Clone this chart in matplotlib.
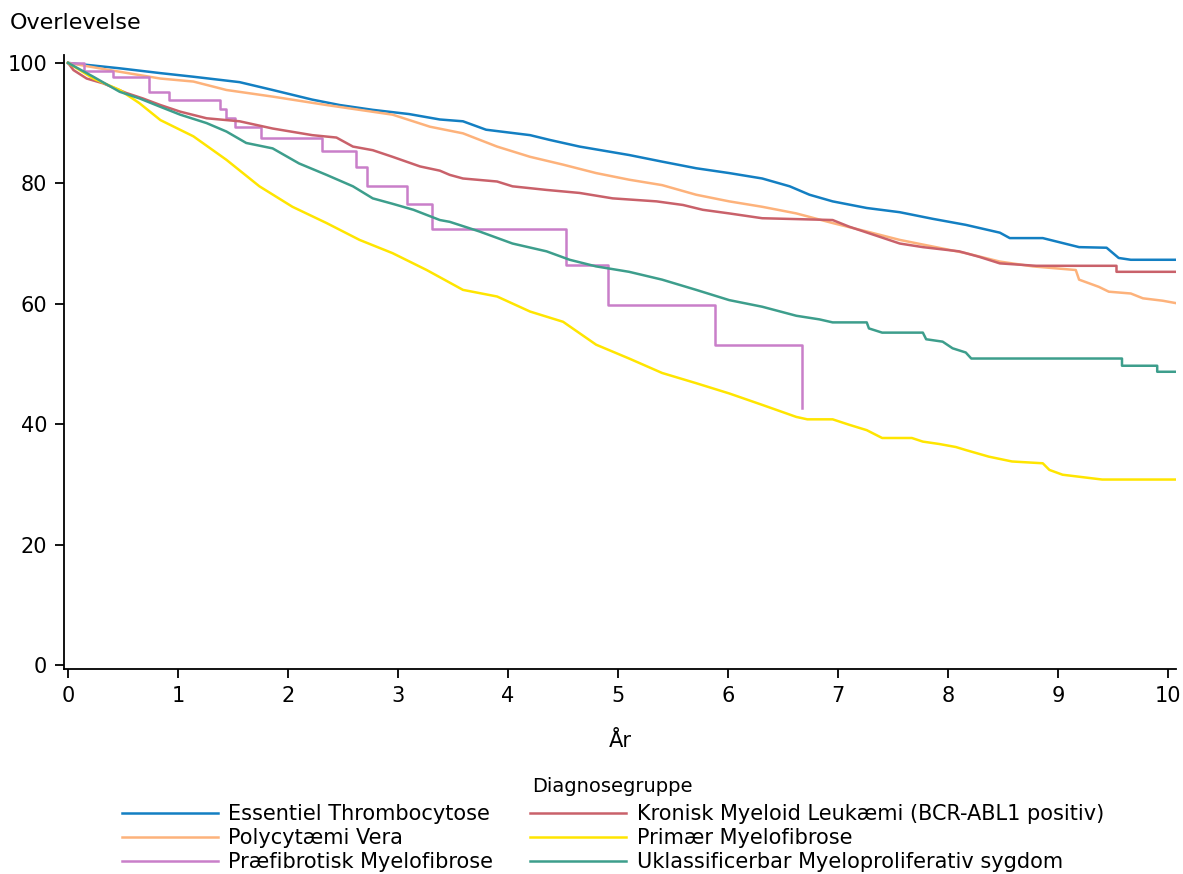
import matplotlib
matplotlib.use("Agg")
import matplotlib.pyplot as plt

plt.rcParams['font.family'] = ['DejaVu Sans']

# ---- data ----
et_t = [0, 0.47, 0.84, 1.14, 1.56, 1.86, 2.22, 2.47, 2.77, 3.1, 3.38, 3.59, 3.8, 4.2, 4.38, 4.65,
        5.1, 5.4, 5.71, 6.01, 6.31, 6.56, 6.74, 6.95, 7.26, 7.56, 7.86, 8.16, 8.47, 8.56, 8.86,
        9.19, 9.44, 9.55, 9.66, 10.07]
et_v = [100, 99.1, 98.3, 97.7, 96.8, 95.5, 93.9, 93.0, 92.2, 91.5, 90.6, 90.3, 88.9, 88.0, 87.2, 86.1,
        84.7, 83.6, 82.5, 81.7, 80.8, 79.5, 78.1, 77.0, 75.9, 75.2, 74.1, 73.1, 71.8, 70.9, 70.9,
        69.4, 69.3, 67.6, 67.3, 67.3]

pv_t = [0, 0.38, 0.84, 1.14, 1.44, 1.86, 2.35, 2.65, 2.95, 3.29, 3.59, 3.9, 4.2, 4.5, 4.8, 5.1,
        5.4, 5.71, 6.01, 6.31, 6.62, 6.95, 7.26, 7.56, 7.86, 8.16, 8.47, 8.77, 9.16, 9.19, 9.37,
        9.46, 9.66, 9.77, 9.95, 10.07]
pv_v = [100, 98.8, 97.4, 96.9, 95.5, 94.4, 93.0, 92.2, 91.4, 89.4, 88.3, 86.1, 84.4, 83.1, 81.7, 80.6,
        79.7, 78.1, 77.0, 76.1, 75.0, 73.4, 72.0, 70.6, 69.5, 68.4, 67.0, 66.2, 65.6, 64.0, 62.8,
        62.0, 61.7, 60.9, 60.5, 60.1]

pre_t = [0, 0.15, 0.41, 0.74, 0.92, 1.38, 1.44, 1.52, 1.75, 2.31, 2.62, 2.72, 3.08, 3.31, 4.53,
         4.91, 5.88, 6.67]
pre_v = [100, 98.7, 97.6, 95.1, 93.9, 92.4, 90.8, 89.3, 87.6, 85.4, 82.7, 79.6, 76.5, 72.4, 66.4,
         59.8, 53.2, 42.7]

cml_t = [0, 0.05, 0.17, 0.32, 0.53, 0.68, 0.84, 1.02, 1.26, 1.56, 1.86, 2.22, 2.44, 2.59, 2.77,
         2.95, 3.2, 3.38, 3.47, 3.59, 3.9, 4.04, 4.35, 4.65, 4.95, 5.35, 5.59, 5.77, 6.01, 6.31,
         6.74, 6.95, 7.1, 7.38, 7.56, 7.77, 8.1, 8.28, 8.47, 8.8, 9.53, 9.53, 10.07]
cml_v = [100, 98.8, 97.4, 96.6, 95.0, 94.1, 93.0, 91.9, 90.8, 90.3, 89.1, 88.0, 87.6, 86.1, 85.5,
         84.4, 82.8, 82.1, 81.4, 80.8, 80.3, 79.5, 78.9, 78.4, 77.5, 77.0, 76.4, 75.6, 75.0, 74.2,
         74.0, 73.9, 72.8, 71.1, 70.0, 69.4, 68.7, 67.8, 66.7, 66.3, 66.3, 65.3, 65.3]

pmf_t = [0, 0.23, 0.47, 0.65, 0.84, 1.14, 1.44, 1.74, 2.04, 2.35, 2.65, 2.95, 3.26, 3.59, 3.9,
         4.2, 4.5, 4.8, 5.1, 5.4, 5.71, 6.01, 6.31, 6.62, 6.72, 6.95, 7.1, 7.26, 7.4, 7.67, 7.77,
         7.92, 8.07, 8.16, 8.37, 8.58, 8.86, 8.92, 9.04, 9.4, 10.07]
pmf_v = [100, 97.4, 95.5, 93.3, 90.5, 87.8, 83.9, 79.5, 76.1, 73.4, 70.6, 68.4, 65.6, 62.3, 61.2,
         58.7, 57.0, 53.2, 50.9, 48.5, 46.8, 45.1, 43.2, 41.2, 40.8, 40.8, 39.9, 39.0, 37.7, 37.7, 37.1,
         36.7, 36.2, 35.7, 34.6, 33.8, 33.5, 32.4, 31.6, 30.8, 30.8]

mpn_t = [0, 0.23, 0.47, 0.65, 0.84, 1.02, 1.26, 1.44, 1.62, 1.86, 2.1, 2.35, 2.59, 2.77, 2.95,
         3.14, 3.38, 3.47, 3.74, 4.04, 4.35, 4.56, 4.8, 5.1, 5.4, 5.71, 6.01, 6.31, 6.62, 6.83,
         6.95, 7.26, 7.28, 7.4, 7.77, 7.8, 7.95, 8.04, 8.16, 8.21, 9.58, 9.58, 9.9, 9.9, 10.07]
mpn_v = [100, 97.7, 95.2, 94.1, 92.7, 91.4, 90.0, 88.6, 86.7, 85.8, 83.3, 81.4, 79.5, 77.5, 76.6,
         75.6, 73.9, 73.6, 72.0, 70.0, 68.7, 67.3, 66.2, 65.3, 64.0, 62.3, 60.6, 59.5, 58.0, 57.4,
         56.9, 56.9, 55.9, 55.2, 55.2, 54.1, 53.7, 52.6, 51.9, 50.9, 50.9, 49.7, 49.7, 48.7, 48.7]

labels = ["Essentiel Thrombocytose", "Polycytæmi Vera", "Præfibrotisk Myelofibrose",
          "Kronisk Myeloid Leukæmi (BCR-ABL1 positiv)", "Primær Myelofibrose",
          "Uklassificerbar Myeloproliferativ sygdom"]
colors = ["#137fc2", "#fdb27b", "#c97fc9", "#c9616a", "#ffe500", "#3d9e8c"]

x_ticks = list(range(0, 11))
y_ticks = [0, 20, 40, 60, 80, 100]

# ---- figure ----
fig = plt.figure(figsize=(11.83, 8.74), dpi=100)
ax = fig.add_axes([0.0545, 0.2346, 0.9395, 0.7024])

series = [(et_t, et_v, "default"), (pv_t, pv_v, "default"), (pre_t, pre_v, "steps-post"),
          (cml_t, cml_v, "default"), (pmf_t, pmf_v, "default"), (mpn_t, mpn_v, "default")]
for (t, v, ds), lab, c in zip(series, labels, colors):
    ax.plot(t, v, color=c, lw=1.8, drawstyle=ds, label=lab)

ax.set_xlim(-0.032, 10.07)
ax.set_ylim(-0.66, 101.3)
ax.set_xticks(x_ticks)
ax.set_yticks(y_ticks)
for s in ["top", "right"]:
    ax.spines[s].set_visible(False)
for s in ["left", "bottom"]:
    ax.spines[s].set_linewidth(1.3)
ax.tick_params(axis="both", length=6.5, width=1.3, labelsize=15, pad=6)

ax.set_xlabel("År", fontsize=15, labelpad=18)
fig.text(0.0085, 0.974, "Overlevelse", fontsize=16, ha="left", va="center")

leg = fig.legend(loc="upper center", bbox_to_anchor=(0.518, 0.128), ncol=2, frameon=False,
                 fontsize=15, title="Diagnosegruppe", title_fontsize=14,
                 handlelength=4.6, handletextpad=0.5, columnspacing=1.8,
                 labelspacing=0.2, borderpad=0.2)
leg._legend_box.sep = 6

fig.savefig("out.png", dpi=100)
